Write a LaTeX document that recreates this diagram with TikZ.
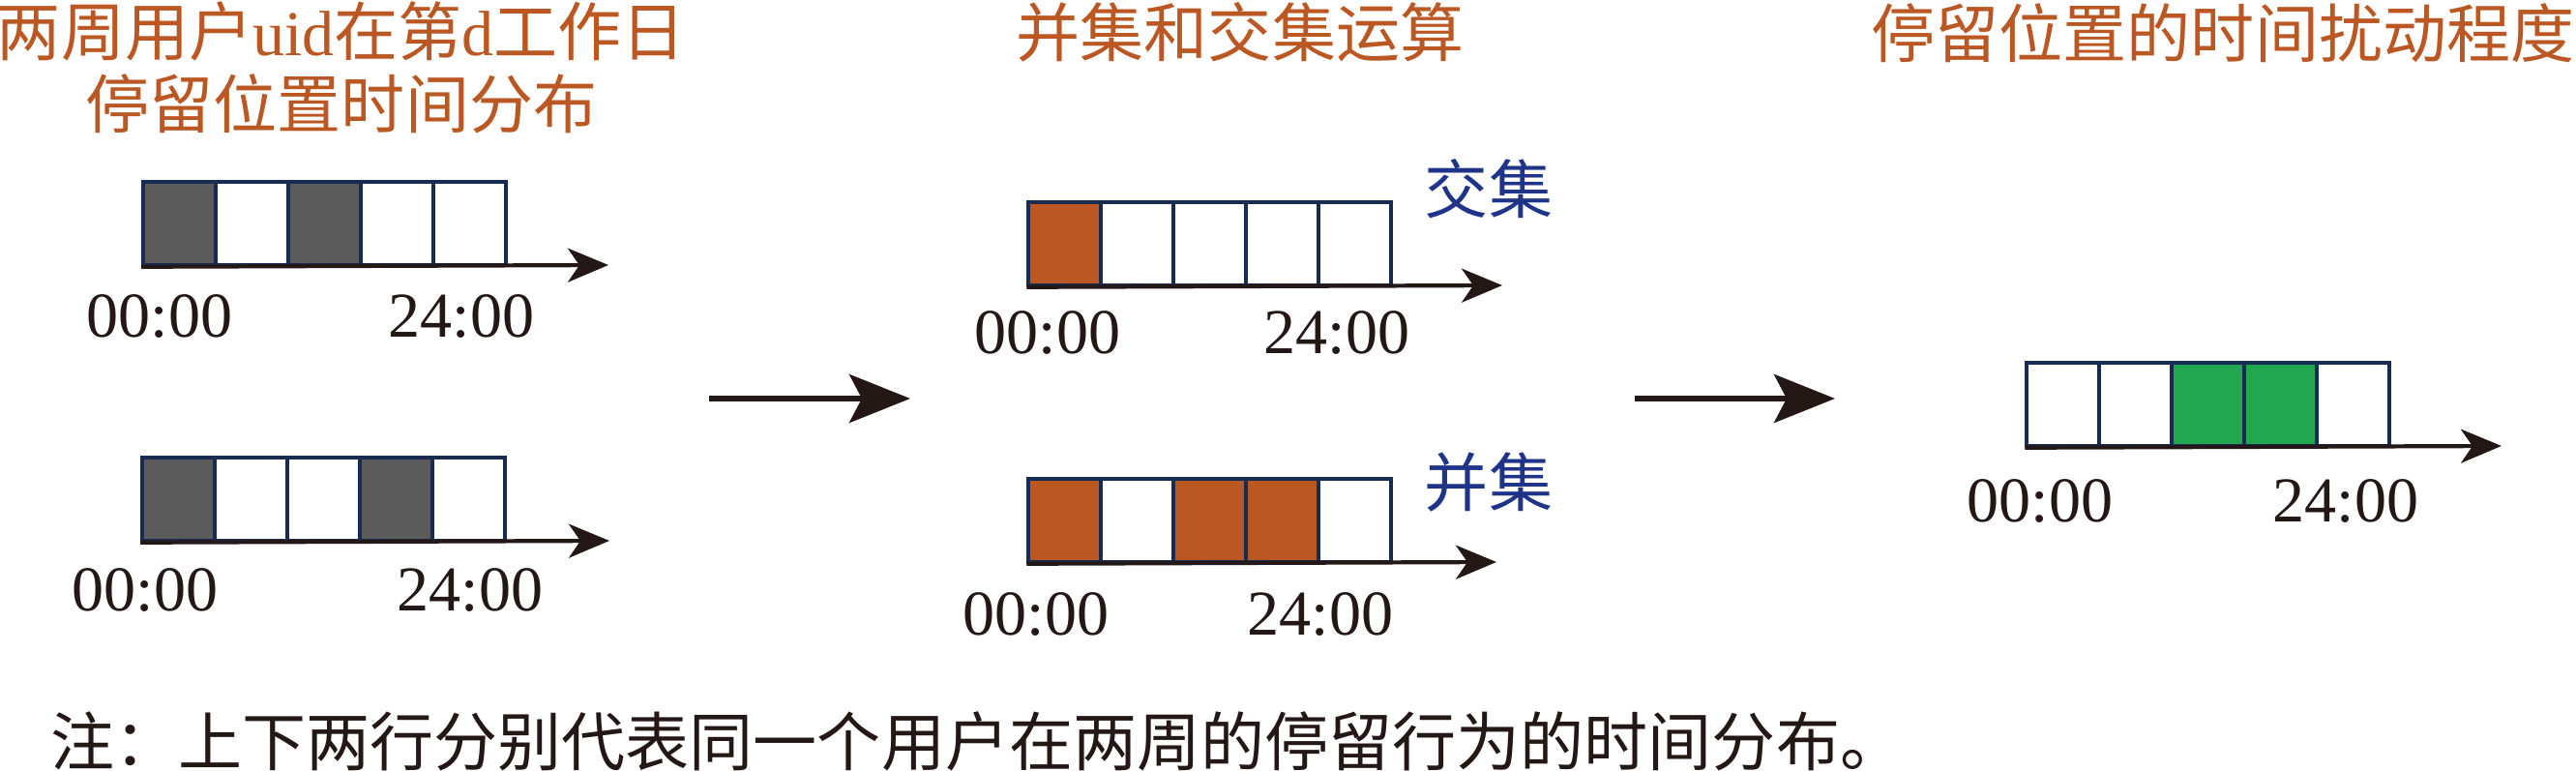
\documentclass[tikz,border=0pt]{standalone}
\usepackage{fontspec}
\setmainfont{Liberation Serif}
\newfontfamily\cjk{Noto Sans CJK SC}
\usetikzlibrary{arrows.meta}

\definecolor{rust}{RGB}{186,87,34}
\definecolor{slot}{RGB}{91,91,91}
\definecolor{leaf}{RGB}{33,167,80}
\definecolor{navy}{RGB}{24,44,82}
\definecolor{setblue}{RGB}{31,52,137}
\definecolor{ink}{RGB}{35,24,21}

\begin{document}
\begin{tikzpicture}[semithick,
    cell/.style={draw=navy,line width=1pt,minimum width=0.75cm,minimum height=0.86cm,inner sep=0pt},
    axis/.style={draw=ink,line width=1.2pt,-{Stealth[length=4.2mm,width=3.5mm,inset=1.2mm]}},
    flow/.style={draw=ink,line width=1.7pt,-{Stealth[length=6.3mm,width=5mm,inset=1.3mm]}},
    lbl/.style={font=\fontsize{18.8}{21.5}\selectfont,text=ink,inner sep=0pt},
    ttl/.style={font=\fontsize{18.8}{21.5}\selectfont\cjk,text=rust,inner sep=0pt,align=center},
    tag/.style={font=\fontsize{18.8}{21.5}\selectfont\cjk,text=setblue,inner sep=0pt}]
    \useasboundingbox (0,0) rectangle (26.63,7.96);

    % titles
    \node[ttl] (tA) at (3.53,7.26) {两周用户{\rmfamily uid}在第{\rmfamily d}工作日\\停留位置时间分布};
    \node[ttl] (tB) at (12.82,7.63) {并集和交集运算};
    \node[ttl] (tC) at (22.98,7.62) {停留位置的时间扰动程度};

    % week A / week B
    \foreach \c [count=\i] in {slot,white,slot,white,white}
      \node[cell,fill=\c] (wkA\i) at ({1.105+0.75*\i},5.65) {};
    \coordinate (tipA) at (6.29,5.22);
    \draw[axis] (wkA1.south west) -- (tipA);
    \node[lbl] (a0) at (1.65,4.69) {00:00};
    \node[lbl] (a1) at (4.77,4.69) {24:00};

    \foreach \c [count=\i] in {slot,white,white,slot,white}
      \node[cell,fill=\c] (wkB\i) at ({1.095+0.75*\i},2.80) {};
    \coordinate (tipB) at (6.30,2.37);
    \draw[axis] (wkB1.south west) -- (tipB);
    \node[lbl] (b0) at (1.50,1.86) {00:00};
    \node[lbl] (b1) at (4.86,1.86) {24:00};

    % intersection / union
    \foreach \c [count=\i] in {rust,white,white,white,white}
      \node[cell,fill=\c] (cap\i) at ({10.255+0.75*\i},5.44) {};
    \coordinate (tipC) at (15.53,5.01);
    \draw[axis] (cap1.south west) -- (tipC);
    \node[lbl] (c0) at (10.83,4.52) {00:00};
    \node[lbl] (c1) at (13.82,4.52) {24:00};
    \node[tag] (capt) at (15.39,6.01) {交集};

    \foreach \c [count=\i] in {rust,white,rust,rust,white}
      \node[cell,fill=\c] (cup\i) at ({10.255+0.75*\i},2.58) {};
    \coordinate (tipD) at (15.47,2.15);
    \draw[axis] (cup1.south west) -- (tipD);
    \node[lbl] (d0) at (10.71,1.61) {00:00};
    \node[lbl] (d1) at (13.65,1.61) {24:00};
    \node[tag] (cupt) at (15.39,2.97) {并集};

    % shift
    \foreach \c [count=\i] in {white,white,leaf,leaf,white}
      \node[cell,fill=\c] (sh\i) at ({20.575+0.75*\i},3.78) {};
    \coordinate (tipE) at (25.86,3.35);
    \draw[axis] (sh1.south west) -- (tipE);
    \node[lbl] (e0) at (21.09,2.78) {00:00};
    \node[lbl] (e1) at (24.25,2.78) {24:00};

    % flow arrows
    \coordinate (f1) at (7.33,3.84);
    \coordinate (f2) at (9.41,3.84);
    \coordinate (f3) at (16.90,3.84);
    \coordinate (f4) at (18.97,3.84);
    \draw[flow] (f1) -- (f2);
    \draw[flow] (f3) -- (f4);

    \node[lbl,font=\fontsize{18.8}{21.5}\selectfont\cjk,anchor=west] (note) at (0.51,0.30)
      {注：上下两行分别代表同一个用户在两周的停留行为的时间分布。};
\end{tikzpicture}
\end{document}
